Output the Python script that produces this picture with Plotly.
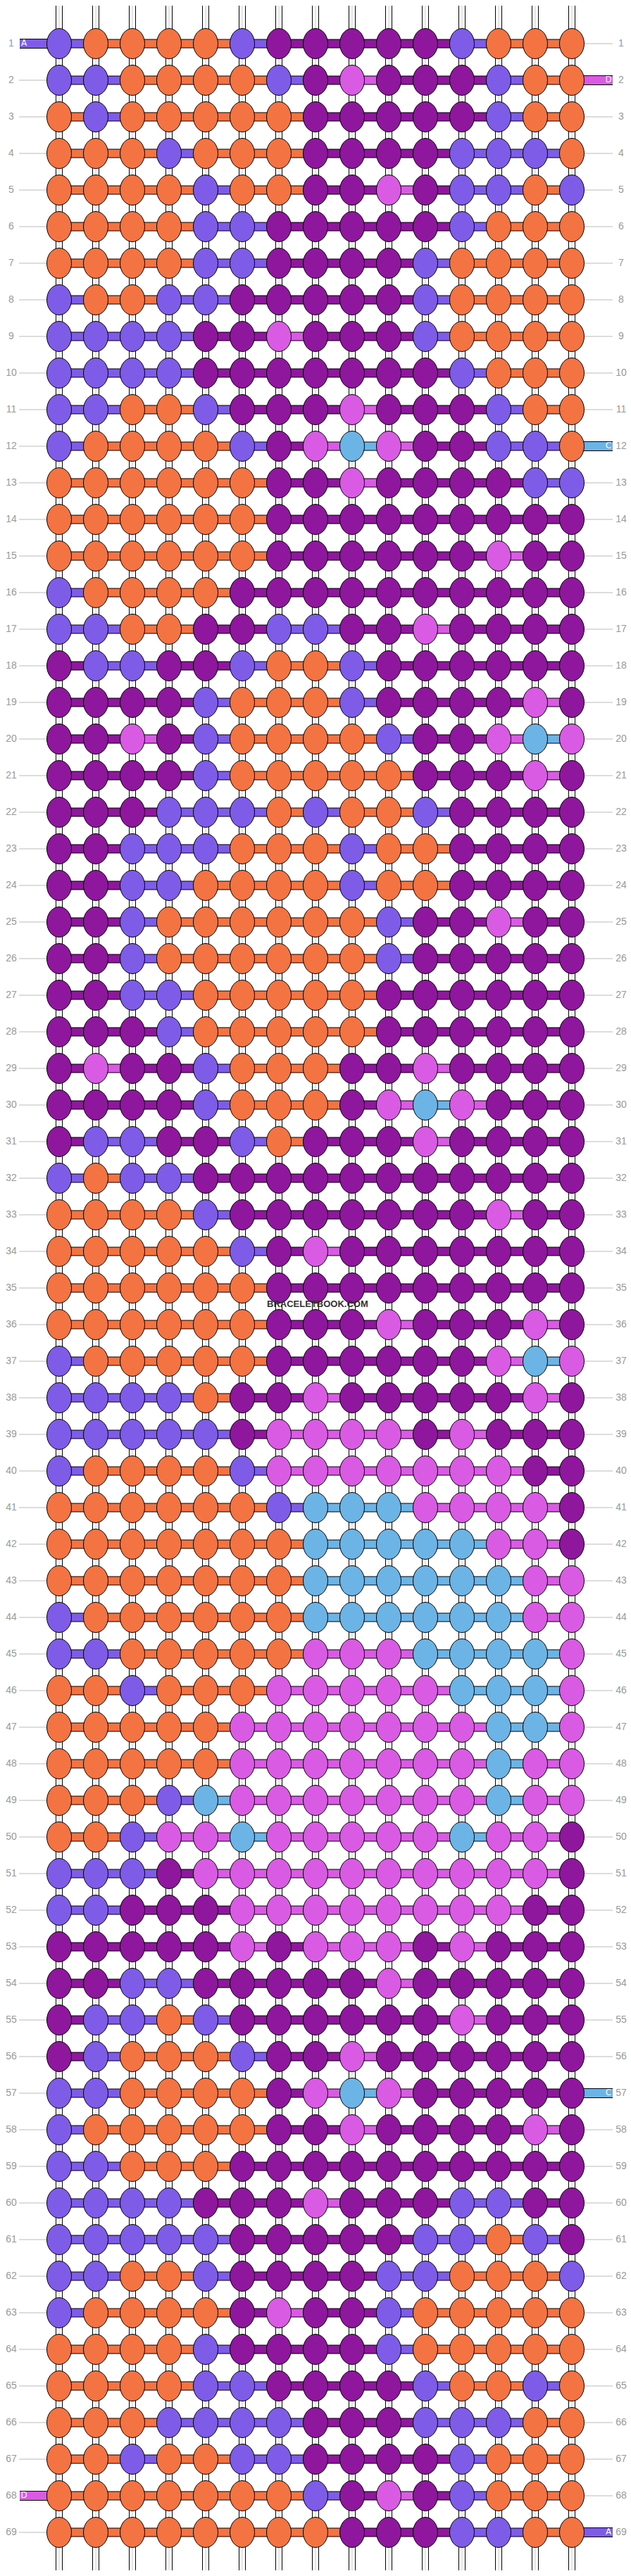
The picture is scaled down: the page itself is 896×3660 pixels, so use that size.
import plotly.graph_objects as go

COLORS = {"O": "#F37342", "P": "#7E5CE8", "D": "#8E179E", "M": "#D95BE3", "B": "#6CB4E6"}

ROWS = [
    "POOOOPDDDDDPOOO", "PPOOOOPDMDDDPOO", "OPOOOOODDDDDPOO", "OOOPOOODDDDPPPO",
    "OOOOPOODDMDPPOP", "OOOOPPDDDDDPOOO", "OOOOPPDDDDPOOOO", "POOPPDDDDDPOOOO",
    "PPPPDDMDDDPOOOO", "PPPPDDDDDDDPOOO", "PPOOPDDDMDDDPOO", "POOOOPDMBMDDPPO",
    "OOOOOODDMDDDDPP", "OOOOOODDDDDDDDD", "OOOOOODDDDDDMDD", "POOOODDDDDDDDDD",
    "PPOODDPPDDMDDDD", "DPPDDPOOPDDDDDD", "DDDDPOOOPDDDDMD", "DDMDPOOOOPDDMBM",
    "DDDDPOOOOODDDMD", "DDDPPPOPOOPDDDD", "DDPPPOOOPOODDDD", "DDPPOOOOPOODDDD",
    "DDPOOOOOOPDDMDD", "DDPOOOOOOPDDDDD", "DDPPOOOOODDDDDD", "DDDPOOOOODDDDDD",
    "DMDDPOOODDMDDDD", "DDDDPOOODMBMDDD", "DPPDDPODDDMDDDD", "POPPDDDDDDDDDDD",
    "OOOOPDDDDDDDMDD", "OOOOOPDMDDDDDDD", "OOOOOODDDDDDDDD", "OOOOOODDDMDDDMD",
    "POOOOODDDDDDMBM", "PPPPODDMDDDDDMD", "PPPPPDMMMMDMDDD", "POOOOPMMMMMMMDD",
    "OOOOOOPBBBMMMMD", "OOOOOOOBBBBBMMD", "OOOOOOOBBBBBBMM", "POOOOOOBBBBBBMM",
    "PPOOOOOMMMBBBBM", "OOPOOOMMMMMBBBM", "OOOOOMMMMMMMBBM", "OOOOOMMMMMMMBMM",
    "OOOPBMMMMMMMBMM", "OOPMMBMMMMMBMMD", "PPPDMMMMMMMMMMD", "PPDDDMMMMMMMMDD",
    "DDDDDMDMMMDMDDD", "DDPPDDDDDMDDDDD", "DPPOPDDDDDDMDDD", "DPOOOPDDMDDDDDD",
    "PPOOOODMBMDDDDD", "POOOOODDMDDDDMD", "PPOOODDDDDDDDDD", "PPPPDDDMDDDPPDD",
    "PPPPPDDDDDPPOPD", "PPOOPDDDDPPOOOP", "POOOODMDDPOOOOO", "OOOOPDDDDPOOOOO",
    "OOOOPPDDDDPOOPO", "OOOPPPPDDDPPPOO", "OOPOOPPDDDDPOOO", "OOOOOOOPDMDPOOO",
    "OOOOOOOODDDPPOO",
]
TABS = [(1, "left", "P", "A"), (2, "right", "M", "D"), (12, "right", "B", "C"),
        (57, "right", "B", "C"), (68, "left", "M", "D"), (69, "right", "P", "A")]

X0, DX, Y0, DY = 84, 52, 62, 52
ncol = 15
nrow = len(ROWS)
xs = [X0 + DX * c for c in range(ncol)]
ys = [Y0 + DY * r for r in range(nrow)]
tab_sides = {(r, s) for r, s, _, _ in TABS}

fig = go.Figure()

tx, ty = [], []
for x in xs:
    tx += [x, x, None]
    ty += [8, 3652, None]
fig.add_trace(go.Scatter(x=tx, y=ty, mode="lines", line=dict(color="black", width=10), hoverinfo="skip"))
fig.add_trace(go.Scatter(x=tx, y=ty, mode="lines", line=dict(color="white", width=8), hoverinfo="skip"))
fig.add_trace(go.Scatter(x=tx, y=ty, mode="lines", line=dict(color="#cccccc", width=1), hoverinfo="skip"))

gx, gy = [], []
for r, y in enumerate(ys):
    if (r + 1, "left") not in tab_sides:
        gx += [27, 66, None]; gy += [y, y, None]
    if (r + 1, "right") not in tab_sides:
        gx += [830, 870, None]; gy += [y, y, None]
fig.add_trace(go.Scatter(x=gx, y=gy, mode="lines", line=dict(color="#bbbbbb", width=1), hoverinfo="skip"))

seg = {k: ([], []) for k in COLORS}
bx, by = [], []
for r, row in enumerate(ROWS):
    for c in range(ncol - 1):
        k = row[c]
        seg[k][0].extend([xs[c], xs[c + 1], None])
        seg[k][1].extend([ys[r], ys[r], None])
        bx += [xs[c], xs[c + 1], None]
        by += [ys[r], ys[r], None]
fig.add_trace(go.Scatter(x=bx, y=by, mode="lines", line=dict(color="black", width=13), hoverinfo="skip"))
for k, (sx, sy) in seg.items():
    fig.add_trace(go.Scatter(x=sx, y=sy, mode="lines", line=dict(color=COLORS[k], width=11), hoverinfo="skip"))

for r, side, k, lab in TABS:
    y = ys[r - 1]
    if side == "left":
        xa, xb, xt = 28, xs[0], 34
    else:
        xa, xb, xt = xs[-1], 870, 864
    fig.add_trace(go.Scatter(x=[xa, xb], y=[y, y], mode="lines", line=dict(color="black", width=14), hoverinfo="skip"))
    fig.add_trace(go.Scatter(x=[xa, xb], y=[y, y], mode="lines", line=dict(color=COLORS[k], width=12), hoverinfo="skip"))
    fig.add_trace(go.Scatter(x=[xt], y=[y], mode="text", text=[lab], cliponaxis=False,
                             textfont=dict(color="white", size=12, family="DejaVu Sans"), hoverinfo="skip"))

shapes = []
for r, row in enumerate(ROWS):
    for c, k in enumerate(row):
        shapes.append(dict(type="circle", xref="x", yref="y",
                           x0=xs[c] - 17.5, x1=xs[c] + 17.5, y0=ys[r] - 21.5, y1=ys[r] + 21.5,
                           fillcolor=COLORS[k], line=dict(color="black", width=1), layer="above"))

ax, ay, at = [], [], []
for r, row in enumerate(ROWS):
    for c in range(ncol):
        ax.append(xs[c]); ay.append(ys[r]); at.append("→" if r % 2 == 0 else "←")
fig.add_trace(go.Scatter(x=ax, y=ay, mode="text", text=at, cliponaxis=False,
                         textfont=dict(color="white", size=20, family="DejaVu Sans"), hoverinfo="skip"))

lab_x, lab_y, lab_t = [], [], []
for r, y in enumerate(ys):
    lab_x += [16, 882]; lab_y += [y, y]; lab_t += [str(r + 1), str(r + 1)]
fig.add_trace(go.Scatter(x=lab_x, y=lab_y, mode="text", text=lab_t, cliponaxis=False,
                         textfont=dict(color="#999999", size=14, family="Liberation Sans"), hoverinfo="skip"))

fig.add_annotation(x=451, y=1852, text="<b>BRACELETBOOK.COM</b>", showarrow=False,
                   font=dict(color="#333333", size=13, family="Liberation Sans"))

fig.update_layout(width=896, height=3660, margin=dict(l=0, r=0, t=0, b=0),
                  plot_bgcolor="white", paper_bgcolor="white", showlegend=False, shapes=shapes,
                  xaxis=dict(range=[0, 896], visible=False, fixedrange=True),
                  yaxis=dict(range=[3660, 0], visible=False, fixedrange=True))
fig.write_html("out.html", config={"displayModeBar": False})

with open("out.html", encoding="utf-8") as f:
    html = f.read()
html = html.replace("<head>", "<head><style>html,body{margin:0;padding:0;overflow:hidden;}</style>", 1)
with open("out.html", "w", encoding="utf-8") as f:
    f.write(html)
